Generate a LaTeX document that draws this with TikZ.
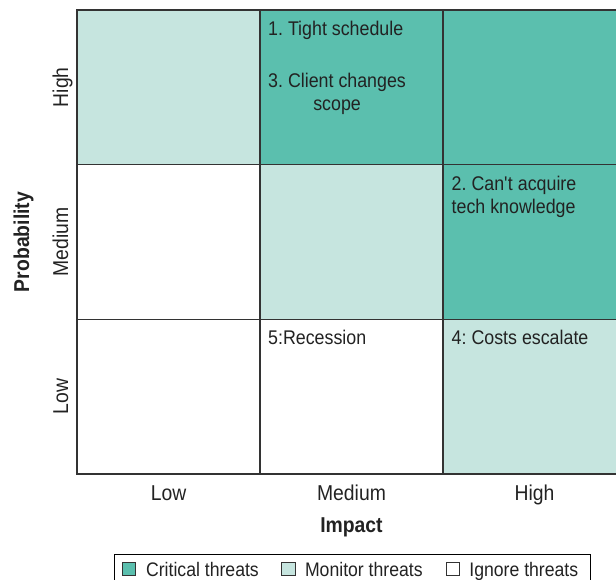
\documentclass[tikz,border=0pt]{standalone}
\usepackage{fontspec}
\setmainfont{Liberation Sans}[FakeStretch=0.9]
\usetikzlibrary{positioning}
\definecolor{critical}{HTML}{5BBFAE}
\definecolor{monitor}{HTML}{C6E5DF}
\definecolor{gridline}{HTML}{333333}
\definecolor{ink}{HTML}{222222}
\newcommand{\cellfont}{\fontsize{19.8}{23}\selectfont}
\newcommand{\legfont}{\fontsize{19.6}{23}\selectfont}
\newcommand{\axisfont}{\fontsize{21.5}{25}\selectfont}
\frenchspacing

\begin{document}
\begin{tikzpicture}[
    x=1pt, y=-1pt,
    cell/.style={rectangle,draw=gridline,line width=1.3pt,minimum width=183pt,
                 minimum height=154.67pt,inner sep=0pt,outer sep=0pt},
    item/.style={inner sep=0pt,font=\cellfont,text=ink},
    axislabel/.style={inner sep=0pt,font=\axisfont,text=ink},
    axistitle/.style={inner sep=0pt,font=\axisfont\bfseries,text=ink},
    swatch/.style={rectangle,draw=gridline,line width=0.8pt,minimum size=13.5pt,inner sep=0pt},
    legtext/.style={inner sep=0pt,font=\legfont,text=ink,text height=14pt,text depth=0pt}
]
\useasboundingbox (0,0) rectangle (616,580);
\clip (0,0) rectangle (616,580);

% risk grid
\foreach \c/\r/\clr in {1/1/monitor,2/1/critical,3/1/critical,
                        1/2/white,2/2/monitor,3/2/critical,
                        1/3/white,2/3/white,3/3/monitor}
  \node[cell,fill=\clr] (cell-\c-\r) at ({77+183*(\c-0.5)},{10+154.67*(\r-0.5)}) {};

% threats
\node[item,below right=11pt and 8pt of cell-2-1.north west] (t-sched) {1. Tight schedule};
\node[item,align=center,below right=63pt and 8pt of cell-2-1.north west] (t-scope) {3. Client changes\\scope};
\node[item,align=left,below right=11pt and 8.5pt of cell-3-2.north west] (t-tech) {2. Can\textquotesingle t acquire\\tech knowledge};
\node[item,below right=11pt and 8pt of cell-2-3.north west] (t-recess) {5:Recession};
\node[item,below right=11pt and 8.5pt of cell-3-3.north west] (t-costs) {4: Costs escalate};

% probability axis
\node[axislabel,rotate=90,anchor=base] (p-high) at ([xshift=-9pt]cell-1-1.west) {High};
\node[axislabel,rotate=90,anchor=base] (p-med) at ([xshift=-9pt]cell-1-2.west) {Medium};
\node[axislabel,rotate=90,anchor=base] (p-low) at ([xshift=-9pt]cell-1-3.west) {Low};
\node[axistitle,rotate=90,anchor=base] (p-title) at ([xshift=-48pt]cell-1-2.west) {Probability};

% impact axis
\node[axislabel,anchor=base] (i-low) at ([yshift=-26pt]cell-1-3.south) {Low};
\node[axislabel,anchor=base] (i-med) at ([yshift=-26pt]cell-2-3.south) {Medium};
\node[axislabel,anchor=base] (i-high) at ([yshift=-26pt]cell-3-3.south) {High};
\node[axistitle,anchor=base] (i-title) at ([yshift=-58.5pt]cell-2-3.south) {Impact};

% legend
\node[draw=black,line width=0.8pt,minimum width=476pt,minimum height=50pt,
      inner sep=0pt,anchor=north west] (legend) at (114,554) {};
\node[swatch,fill=critical] (sw-crit) at (128.75,569) {};
\node[legtext,right=10pt of sw-crit] (lt-crit) {Critical threats};
\node[swatch,fill=monitor,right=22pt of lt-crit] (sw-mon) {};
\node[legtext,right=9.5pt of sw-mon] (lt-mon) {Monitor threats};
\node[swatch,fill=white,right=23pt of lt-mon] (sw-ign) {};
\node[legtext,right=9pt of sw-ign] (lt-ign) {Ignore threats};
\end{tikzpicture}
\end{document}
